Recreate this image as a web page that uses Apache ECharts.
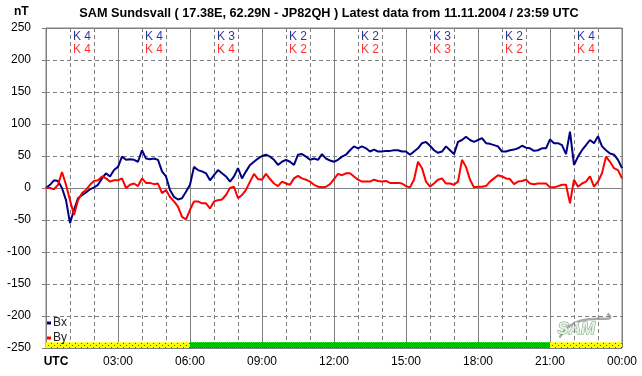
<!DOCTYPE html>
<html>
<head>
<meta charset="utf-8">
<script src="https://cdn.jsdelivr.net/npm/echarts@6/dist/echarts.min.js"></script>
<style>
html,body{margin:0;padding:0;background:#fff;}
#chart{width:642px;height:376px;}
</style>
</head>
<body>
<div id="chart"></div>
<script>
// samples every 10 minutes, 00:00 .. 24:00 UTC
var stepMinutes = 10;
var bx = [0,5,12,11,0,-19,-55,-34,-16,-11,-7,-2,1,5,15,23,18,28,33,49,44,45,44,41,
  59,46,45,46,44,26,18,-3,-14,-18,-16,-6,5,33,28,26,23,12,20,28,23,18,10,18,
  31,15,26,36,41,46,50,52,49,44,36,41,44,41,36,52,53,49,44,46,44,53,46,43,
  41,44,49,52,59,65,62,65,62,57,60,57,57,58,58,59,59,57,57,52,57,62,70,72,
  66,59,55,57,65,59,53,72,75,80,75,72,75,78,70,69,67,65,57,57,59,60,62,66,
  63,62,58,59,62,62,76,70,70,67,53,88,36,49,59,67,75,70,81,65,59,54,52,44,31];
var by = [0,0,-2,5,25,5,-19,-42,-19,-8,-3,5,11,12,18,15,10,12,12,15,0,5,7,3,
  15,8,8,6,7,-8,-3,-14,-21,-29,-45,-49,-34,-21,-21,-24,-24,-32,-21,-19,-18,-11,0,2,
  -16,-11,-3,10,22,14,13,22,14,7,3,10,7,5,15,19,15,13,10,5,2,1,2,6,
  14,22,20,23,23,18,13,10,10,10,13,11,10,11,8,8,8,7,3,1,13,41,31,10,
  2,7,13,15,7,7,5,10,44,33,13,1,2,2,3,10,15,20,18,15,14,6,10,11,
  13,7,6,7,7,7,1,1,3,5,5,-24,13,2,7,10,18,2,10,23,49,41,31,28,15];
// K indices per 3-hour block
var kBx = [4,4,3,2,2,3,2,4];
var kBy = [4,4,4,2,2,3,2,4];
var xTicks = ['UTC','03:00','06:00','09:00','12:00','15:00','18:00','21:00','00:00'];
// data-quality bar along the bottom
var statusFrom = [0,6,21];
var statusTo = [6,21,24];
var statusOk = [false,true,false];

function toPairs(vals){
  return vals.map(function(v,i){ return [i*stepMinutes/60, v]; });
}
function pattern(w,h,bg,fg,dots){
  var c = document.createElement('canvas');
  c.width = w; c.height = h;
  var ctx = c.getContext('2d');
  ctx.fillStyle = bg; ctx.fillRect(0,0,w,h);
  ctx.fillStyle = fg;
  dots.forEach(function(d){ ctx.fillRect(d[0],d[1],1,1); });
  return c;
}
var warnFill = {image: pattern(6,4,'#ffff00','#ff0000',[[0,1],[3,3]]), repeat:'repeat'};
var okFill = {image: pattern(2,2,'#00dd00','#008800',[[1,0],[0,1]]), repeat:'repeat'};

var statusAreas = statusFrom.map(function(f,i){
  return [{xAxis:f, yAxis:-250, itemStyle:{color: statusOk[i] ? okFill : warnFill}},
          {xAxis:statusTo[i], yAxis:-241}];
});

function kData(arr){
  return arr.map(function(k,i){ return [1.5 + 3*i, k]; });
}

var grey = '#808080';
var chart = echarts.init(document.getElementById('chart'));
chart.setOption({
  animation: false,
  backgroundColor: '#fff',
  textStyle: {fontFamily: 'Liberation Sans, Arial, sans-serif'},
  graphic: [
    {type:'text', left:14, top:6, style:{text:'nT', font:'bold 12px Liberation Sans', fill:'#000'}},
    {type:'text', x:329, y:7, style:{text:'SAM Sundsvall ( 17.38E, 62.29N - JP82QH ) Latest data from 11.11.2004 / 23:59 UTC',
      font:'bold 12.7px Liberation Sans', fill:'#000', align:'center'}},
    {type:'group', left:557, top:311, z:10, children:[
      {type:'bezierCurve', shape:{x1:6,y1:26,x2:54,y2:2,cpx1:24,cpy1:-6,cpx2:68,cpy2:16},
        style:{stroke:'#a8a8a8', lineWidth:2.5, fill:null}},
      {type:'text', x:4, y:9, style:{text:'SAM', font:'italic bold 17px Liberation Sans', fill:'#e8efe8', stroke:'#70a870', lineWidth:1}}
    ]}
  ],
  legend: {
    data: ['Bx','By'], orient:'vertical', left:47, top:317, padding:0,
    icon:'rect', itemWidth:4, itemHeight:3, itemGap:3,
    textStyle:{fontSize:12, color:'#222', padding:[0,0,0,-3]}
  },
  grid: {left:46, right:20, top:28, bottom:28, show:true, borderColor:grey, borderWidth:1},
  xAxis: [{
    type:'value', min:0, max:24, interval:3,
    axisLine:{show:true, lineStyle:{color:grey}},
    axisTick:{show:true, length:4, lineStyle:{color:grey}},
    minorTick:{show:true, splitNumber:3, length:4, lineStyle:{color:grey}},
    splitLine:{show:true, lineStyle:{color:grey, width:1}},
    minorSplitLine:{show:true, lineStyle:{color:grey, type:[4,3]}},
    axisLabel:{
      color:'#000', fontSize:12, margin:8, showMaxLabel:true, showMinLabel:true,
      formatter:function(v){ var s = xTicks[Math.round(v/3)]; return v === 0 ? '{b|' + s + '}' : s; },
      rich:{b:{fontWeight:'bold', fontSize:12, color:'#000', padding:[0,0,0,20]}}
    }
  }],
  yAxis: [{
    type:'value', min:-250, max:250, interval:50,
    axisLine:{show:true, lineStyle:{color:grey}},
    axisTick:{show:true, length:4, lineStyle:{color:grey}},
    splitLine:{show:true, lineStyle:{color:grey, type:[4,3]}},
    axisLabel:{color:'#000', fontSize:12, margin:15}
  }, {
    type:'value', min:-250, max:250, interval:250, position:'left',
    axisLine:{show:false}, axisTick:{show:false}, axisLabel:{show:false},
    splitLine:{show:true, lineStyle:{color:grey, width:1}}
  }],
  series: [
    {name:'Bx', type:'line', data:toPairs(bx), showSymbol:false, symbol:'none',
      lineStyle:{color:'#000080', width:2}, itemStyle:{color:'#000080'},
      markArea:{silent:true, data:statusAreas}},
    {name:'By', type:'line', data:toPairs(by), showSymbol:false, symbol:'none',
      lineStyle:{color:'#ff0000', width:2}, itemStyle:{color:'#ff0000'}},
    {name:'kx', type:'scatter', data:kData(kBx).map(function(d){ return [d[0], 236, d[1]]; }),
      symbolSize:0, silent:true,
      label:{show:true, position:'inside', color:'#000080', fontSize:12,
        formatter:function(p){ return 'K ' + p.value[2]; }}},
    {name:'ky', type:'scatter', data:kData(kBy).map(function(d){ return [d[0], 216, d[1]]; }),
      symbolSize:0, silent:true,
      label:{show:true, position:'inside', color:'#ff0000', fontSize:12,
        formatter:function(p){ return 'K ' + p.value[2]; }}}
  ]
});
</script>
</body>
</html>
